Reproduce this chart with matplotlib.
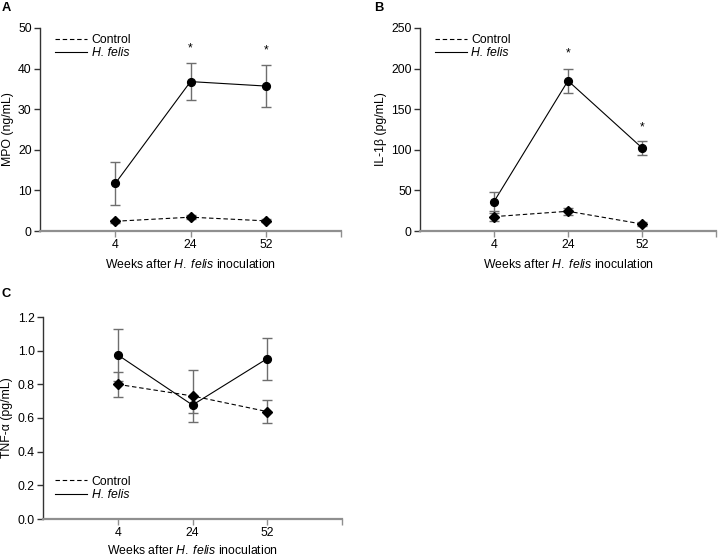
import matplotlib.pyplot as plt
import numpy as np

plt.rcParams['font.family'] = ['Liberation Sans', 'DejaVu Sans']
plt.rcParams['mathtext.fontset'] = 'custom'
plt.rcParams['mathtext.rm'] = 'Liberation Sans'
plt.rcParams['mathtext.it'] = 'Liberation Sans:italic'

# Datos
semanas = ['4', '24', '52']

mpo_control = [2.4, 3.4, 2.5]
mpo_control_err = [0.4, 0.5, 0.4]
mpo_felis = [11.7, 36.8, 35.7]
mpo_felis_err = [5.2, 4.5, 5.1]
mpo_asteriscos = [None, 45.0, 44.4]

il_control = [17.7, 24.3, 8.6]
il_control_err = [5.0, 4.0, 2.0]
il_felis = [36.2, 185.0, 102.4]
il_felis_err = [12.0, 15.0, 8.5]
il_asteriscos = [None, 219.0, 128.0]

tnf_control = [0.80, 0.731, 0.638]
tnf_control_err = [0.075, 0.155, 0.07]
tnf_felis = [0.975, 0.677, 0.953]
tnf_felis_err = [0.155, 0.05, 0.125]

W, H = 718, 557
fig = plt.figure(figsize=(W / 100, H / 100), dpi=100)

GRIS_EJE = '#8f8f8f'
GRIS_ERR = '#6e6e6e'
FS = 8.8


def crear_ejes(izq, der, arriba, abajo):
    return fig.add_axes([izq / W, 1 - abajo / H, (der - izq) / W, (abajo - arriba) / H])


def dibujar(ax, control, control_err, felis, felis_err, ymax, paso, formato,
            ylabel, letra, pos_letra, pos_leyenda, asteriscos=None, pad_x=5):
    x = np.arange(1, len(semanas) + 1)
    ax.errorbar(x, control, yerr=control_err, fmt='D', color='black', ms=4.6,
                ecolor=GRIS_ERR, elinewidth=1, capsize=3.5, capthick=1, zorder=3)
    ax.plot(x, control, '--', color='black', lw=0.8, dashes=(4, 2.5), label='Control', zorder=2)
    ax.errorbar(x, felis, yerr=felis_err, fmt='o', color='black', ms=5.6,
                ecolor=GRIS_ERR, elinewidth=1, capsize=3.5, capthick=1, zorder=3)
    ax.plot(x, felis, '-', color='black', lw=0.8, label='H. felis', zorder=2)

    if asteriscos is not None:
        for xi, yi in zip(x, asteriscos):
            if yi is not None:
                ax.text(xi, yi, '*', ha='center', va='center', fontsize=FS)

    ax.set_xlim(0, 4)
    ax.set_ylim(0, ymax)
    ax.set_xticks([1, 2, 3, 4])
    ax.set_xticklabels(semanas + [''])
    yt = np.arange(0, ymax + paso / 2, paso)
    ax.set_yticks(yt)
    ax.set_yticklabels([formato.format(v) for v in yt])

    for s in ['top', 'right']:
        ax.spines[s].set_visible(False)
    ax.spines['bottom'].set_color(GRIS_EJE)
    ax.spines['bottom'].set_linewidth(1.6)
    ax.spines['left'].set_color('#333333')
    ax.spines['left'].set_linewidth(1.0)
    ax.tick_params(axis='x', colors=GRIS_EJE, labelcolor='black', length=4,
                   width=1, labelsize=FS, pad=2)
    ax.tick_params(axis='y', colors='#333333', labelcolor='black', length=4,
                   width=1, labelsize=FS, pad=2)

    ax.set_xlabel('Weeks after $\\it{H.\\;felis}$ inoculation', fontsize=FS, labelpad=pad_x)
    ax.set_ylabel(ylabel, fontsize=FS, labelpad=3)
    fig.text(pos_letra[0] / W, 1 - pos_letra[1] / H, letra, fontsize=FS + 0.5,
             fontweight='bold', ha='left', va='top')
    leyenda = ax.legend(loc='upper left', bbox_to_anchor=pos_leyenda, frameon=False,
                        fontsize=FS, handlelength=2.6, handletextpad=0.4, labelspacing=0.1,
                        borderaxespad=0, borderpad=0)
    leyenda.get_texts()[1].set_fontstyle('italic')


ax_a = crear_ejes(40, 341, 28, 231)
dibujar(ax_a, mpo_control, mpo_control_err, mpo_felis, mpo_felis_err,
        50, 10, '{:.0f}', 'MPO (ng/mL)', 'A', (2, 2), (0.05, 0.97), mpo_asteriscos)

ax_b = crear_ejes(420, 716, 28, 231)
dibujar(ax_b, il_control, il_control_err, il_felis, il_felis_err,
        250, 50, '{:.0f}', 'IL-1β (pg/mL)', 'B', (374, 2), (0.05, 0.97), il_asteriscos)

ax_c = crear_ejes(43, 342, 317, 519)
dibujar(ax_c, tnf_control, tnf_control_err, tnf_felis, tnf_felis_err,
        1.2, 0.2, '{:.1f}', 'TNF-α (pg/mL)', 'C', (2, 288), (0.04, 0.215), pad_x=3.5)

fig.savefig('out.png', dpi=100)
